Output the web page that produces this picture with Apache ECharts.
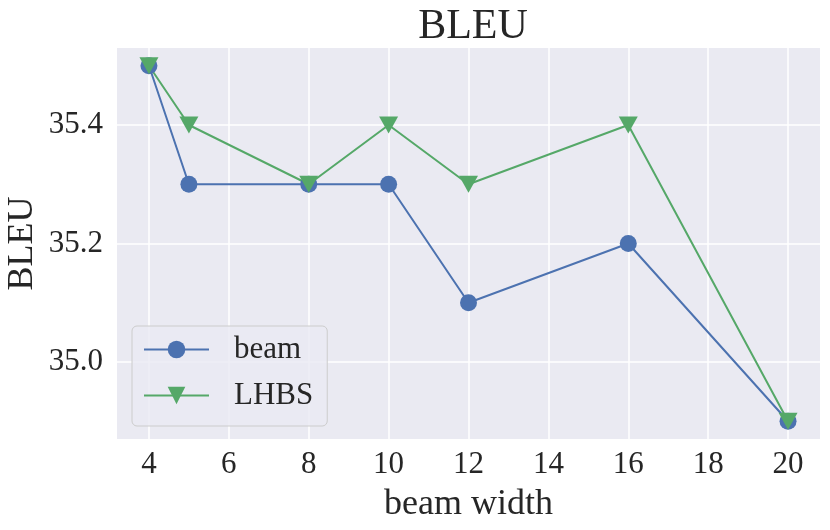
<!DOCTYPE html>
<html>
<head>
<meta charset="utf-8">
<script src="https://cdn.jsdelivr.net/npm/echarts@6/dist/echarts.min.js"></script>
<style>html,body{margin:0;padding:0;background:#fff}#c{width:830px;height:530px}</style>
</head>
<body>
<div id="c"></div>
<script>
const beamWidths = [4, 5, 8, 10, 12, 16, 20];
const beamBleu = [35.5, 35.3, 35.3, 35.3, 35.1, 35.2, 34.9];
const lhbsBleu = [35.5, 35.4, 35.3, 35.4, 35.3, 35.4, 34.9];
const xTicks = [4, 6, 8, 10, 12, 14, 16, 18, 20];
const yTicks = [35.0, 35.2, 35.4];

const FONT = '"Liberation Serif", "Times New Roman", serif';
const TXT = '#262626';
const chart = echarts.init(document.getElementById('c'), null, {renderer: 'canvas'});
const pair = (xs, ys) => xs.map((x, i) => [x, ys[i]]);
chart.setOption({
  animation: false,
  backgroundColor: '#ffffff',
  title: {
    text: 'BLEU', left: 468, top: 1, textAlign: 'center',
    textStyle: {fontFamily: FONT, fontSize: 42, fontWeight: 'normal', color: TXT}
  },
  grid: {left: 117, right: 10, top: 48, bottom: 91, show: true, backgroundColor: '#EAEAF2', borderWidth: 0,
    outerBoundsMode: 'none', containLabel: false},
  xAxis: {
    type: 'value', min: 3.2, max: 20.8,
    name: 'beam width', nameLocation: 'middle', nameGap: 48, nameMoveOverlap: false,
    nameTextStyle: {fontFamily: FONT, fontSize: 36, color: TXT},
    axisLine: {show: false}, axisTick: {show: false, customValues: xTicks},
    axisLabel: {customValues: xTicks, fontFamily: FONT, fontSize: 31, color: TXT, margin: 10},
    splitLine: {show: true, lineStyle: {color: '#ffffff', width: 1.5}}
  },
  yAxis: {
    type: 'value', min: 34.87, max: 35.53,
    name: 'BLEU', nameLocation: 'middle', nameGap: 76, nameRotate: 90, nameMoveOverlap: false,
    nameTextStyle: {fontFamily: FONT, fontSize: 36, color: TXT},
    axisLine: {show: false}, axisTick: {show: false, customValues: yTicks},
    axisLabel: {customValues: yTicks, fontFamily: FONT, fontSize: 31, color: TXT, margin: 14,
      formatter: v => Number(v).toFixed(1)},
    splitLine: {show: true, lineStyle: {color: '#ffffff', width: 1.5}}
  },
  legend: {
    orient: 'vertical', left: 132, top: 326,
    padding: [8, 14, 15, 11], itemGap: 15, itemWidth: 65, itemHeight: 22,
    backgroundColor: 'rgba(234,234,242,0.8)', borderColor: '#cccccc', borderWidth: 1, borderRadius: 5,
    textStyle: {fontFamily: FONT, fontSize: 31, color: TXT, lineHeight: 30, padding: [0, 0, 0, 20]},
    data: ['beam', 'LHBS']
  },
  series: [
    {
      name: 'beam', type: 'line', data: pair(beamWidths, beamBleu),
      symbol: 'circle', symbolSize: 17,
      lineStyle: {color: '#4C72B0', width: 2}, itemStyle: {color: '#4C72B0'}
    },
    {
      name: 'LHBS', type: 'line', data: pair(beamWidths, lhbsBleu),
      symbol: 'triangle', symbolRotate: 180, symbolSize: [19, 17],
      lineStyle: {color: '#55A868', width: 2}, itemStyle: {color: '#55A868'}
    }
  ]
});
</script>
</body>
</html>
